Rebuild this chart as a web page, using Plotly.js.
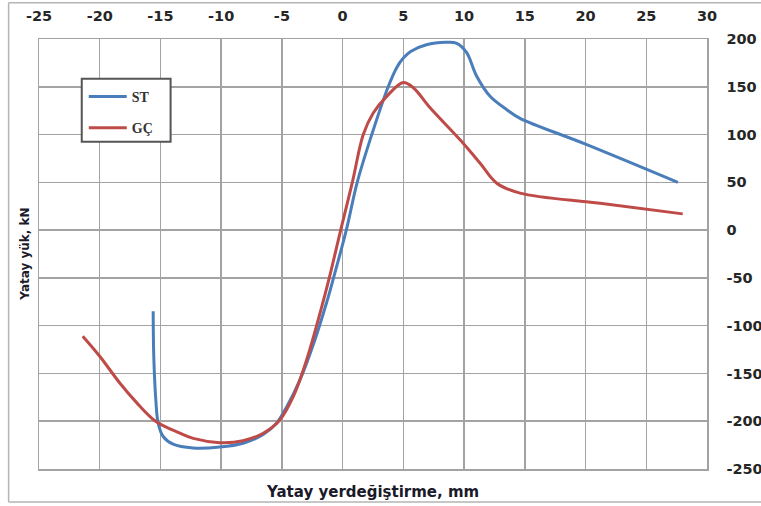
<!DOCTYPE html>
<html>
<head>
<meta charset="utf-8">
<script src="https://cdn.plot.ly/plotly-3.0.1.min.js"></script>
<style>
html,body{margin:0;padding:0;background:#fff;}
#chart{width:761px;height:506px;}
</style>
</head>
<body>
<div id="chart"></div>
<script>
// ST (blue) series
var stX = [-15.6, -15.55, -15.38, -15.19, -14.78, -13.96, -12.31, -10.11, -8.19, -6.54, -5.44, -4.61, -3.52, -2.42, -1.3, -0.75, 0.3, 1.2, 2.4, 3.75, 4.45, 5.0, 5.6, 6.9, 8.5, 9.4, 10.2, 11.04, 12.14, 13.52, 14.61, 20.0, 27.6];
var stY = [-85, -132, -178, -202, -216, -224, -228, -227, -223, -214, -202, -185, -157, -120, -75, -50, 0, 50, 100, 150, 170, 180, 187, 194, 196.5, 195.5, 186, 161, 140, 126, 117, 90, 50];
// GÇ (red) series
var gcX = [-21.4, -20.0, -18.35, -17.0, -15.4, -13.4, -12.3, -10.1, -8.2, -6.54, -5.17, -4.07, -2.97, -1.79, -1.1, -0.16, 0.8, 1.7, 2.52, 3.63, 5.0, 5.82, 7.2, 9.67, 11.32, 12.69, 14.61, 21.2, 28.0];
var gcY = [-111, -132, -160, -180, -200, -212.5, -218, -222.4, -220.4, -212.6, -198.7, -174.3, -136, -83.5, -50, 0, 50, 100, 122.5, 140, 154.5, 149, 128, 94.5, 70, 49, 38.7, 28, 17];
var seriesNames = ['ST', 'GÇ'];
var xTicks = [-25, -20, -15, -10, -5, 0, 5, 10, 15, 20, 25, 30];
var yTicks = [200, 150, 100, 50, 0, -50, -100, -150, -200, -250];

var tickFont = {family: 'DejaVu Sans', size: 14.5, color: '#262626', weight: 'bold'};
var gridC = '#a3a3a3';

var traces = [
  {x: stX, y: stY, name: seriesNames[0], mode: 'lines', legendgroup: 'a',
   line: {color: '#4a7ebb', width: 3, shape: 'spline', smoothing: 1}},
  {x: gcX, y: gcY, name: seriesNames[1], mode: 'lines', legendgroup: 'b',
   line: {color: '#be4b48', width: 3, shape: 'spline', smoothing: 1}}
];

var layout = {
  width: 761, height: 506,
  margin: {l: 39, r: 54, t: 39, b: 37, pad: 0},
  paper_bgcolor: '#fff', plot_bgcolor: '#fff',
  showlegend: true,
  legend: {x: 0.067, y: 0.9027, xanchor: 'left', yanchor: 'top',
    bgcolor: 'rgba(0,0,0,0)', borderwidth: 0, tracegroupgap: 10, itemwidth: 38,
    font: {family: 'Liberation Serif', size: 14, color: '#333', weight: 'bold'}},
  xaxis: {side: 'top', range: [-25, 30], tickvals: xTicks, ticktext: xTicks.map(String),
    showgrid: true, gridcolor: gridC, gridwidth: 1.5, zeroline: false,
    showline: true, linecolor: gridC, linewidth: 1.5, mirror: true,
    ticks: '', tickfont: tickFont, ticklabelstandoff: 11, fixedrange: true},
  yaxis: {side: 'right', range: [-250, 200], tickvals: yTicks, ticktext: yTicks.map(String),
    showgrid: true, gridcolor: gridC, gridwidth: 1.5, zeroline: false,
    showline: true, linecolor: gridC, linewidth: 1.5, mirror: true,
    ticks: '', tickfont: tickFont, ticklabelstandoff: 15, fixedrange: true},
  shapes: [
    {type: 'rect', xref: 'paper', yref: 'paper', x0: 0.064, x1: 0.197, y0: 0.761, y1: 0.9076,
     line: {color: '#555', width: 2}, fillcolor: '#fff', layer: 'above'},
    {type: 'line', xref: 'paper', yref: 'paper', x0: -0.0455, x1: -0.0455, y0: -0.0768, y1: 1.0845,
     line: {color: '#b5b5b5', width: 1.5}},
    {type: 'line', xref: 'paper', yref: 'paper', x0: -0.0455, x1: 1.1, y0: 1.0845, y1: 1.0845,
     line: {color: '#b5b5b5', width: 1.5}},
    {type: 'line', xref: 'paper', yref: 'paper', x0: -0.0455, x1: 1.1, y0: -0.0768, y1: -0.0768,
     line: {color: '#b5b5b5', width: 1.5}}
  ],
  annotations: [
    {text: 'Yatay yerdeğiştirme, mm', xref: 'paper', yref: 'paper', x: 0.499, y: -0.053,
     xanchor: 'center', yanchor: 'middle', showarrow: false,
     font: {family: 'DejaVu Sans', size: 15, color: '#1a1a2a', weight: 'bold'}},
    {text: 'Yatay yük, kN', xref: 'paper', yref: 'paper', x: -0.0214, y: 0.5,
     xanchor: 'center', yanchor: 'middle', showarrow: false, textangle: -90,
     font: {family: 'DejaVu Sans', size: 12, color: '#1a1a2a', weight: 'bold'}}
  ]
};

Plotly.newPlot('chart', traces, layout, {displayModeBar: false, staticPlot: true});
</script>
</body>
</html>
